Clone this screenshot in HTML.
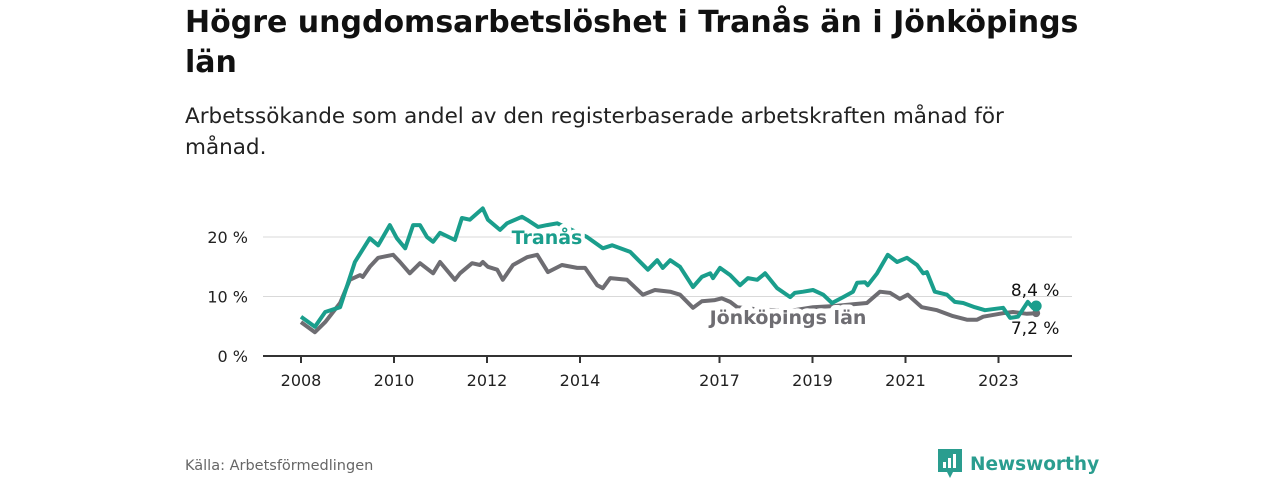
<!DOCTYPE html>
<html><head><meta charset="utf-8">
<style>
body{margin:0;background:#fff;width:1280px;height:480px;overflow:hidden;font-family:"Liberation Sans","DejaVu Sans",sans-serif;}
#wrap{position:relative;width:1280px;height:480px;}
h1{position:absolute;left:185px;top:3px;margin:0;white-space:nowrap;font-family:"DejaVu Sans",sans-serif;font-size:30px;line-height:40px;font-weight:bold;color:#111;}
.sub{position:absolute;left:185px;top:101px;white-space:nowrap;font-family:"DejaVu Sans",sans-serif;font-size:21.5px;line-height:31px;color:#222;}
.src{position:absolute;left:185px;top:458px;font-family:"DejaVu Sans",sans-serif;font-size:14.5px;color:#666;}
.logo{position:absolute;left:938px;top:449px;display:flex;align-items:center;}
.logo span{font-family:"DejaVu Sans",sans-serif;font-size:18.5px;font-weight:bold;color:#2a9d8f;margin-left:8px;}
svg text{font-family:"DejaVu Sans",sans-serif;}
</style></head><body>
<div id="wrap">
<h1>Högre ungdomsarbetslöshet i Tranås än i Jönköpings<br>län</h1>
<div class="sub">Arbetssökande som andel av den registerbaserade arbetskraften månad för<br>månad.</div>
<svg id="chart" width="1280" height="480" style="position:absolute;left:0;top:0"></svg>
<div class="src">Källa: Arbetsförmedlingen</div>
<div class="logo">
<svg width="24" height="30" viewBox="0 0 24 30"><path d="M0 0H24V23H15L12 29L9 23H0Z" fill="#2a9d8f"/><rect x="5" y="13" width="3" height="6" fill="#fff"/><rect x="10" y="9" width="3" height="10" fill="#fff"/><rect x="15" y="5" width="3" height="14" fill="#fff"/></svg>
<span>Newsworthy</span></div>
</div>
<script>
const tranasYears=[2008.0,2008.30,2008.52,2008.84,2009.16,2009.48,2009.66,2009.91,2010.06,2010.24,2010.41,2010.56,2010.71,2010.84,2010.99,2011.31,2011.46,2011.63,2011.91,2012.02,2012.28,2012.43,2012.75,2012.86,2013.10,2013.29,2013.51,2014.15,2014.49,2014.69,2015.08,2015.46,2015.66,2015.78,2015.94,2016.15,2016.43,2016.62,2016.80,2016.86,2017.01,2017.23,2017.44,2017.61,2017.81,2017.98,2018.24,2018.52,2018.62,2018.80,2019.01,2019.23,2019.42,2019.66,2019.87,2019.96,2020.13,2020.19,2020.39,2020.62,2020.82,2021.03,2021.25,2021.38,2021.46,2021.63,2021.89,2022.06,2022.24,2022.49,2022.71,2023.10,2023.25,2023.42,2023.63,2023.74,2023.81];
const tranasValues=[6.6,4.9,7.4,8.2,15.8,19.8,18.6,22,19.8,18.1,22,22,20,19.2,20.7,19.5,23.2,22.9,24.8,22.9,21.2,22.3,23.4,22.9,21.7,22.0,22.3,20,18.1,18.6,17.5,14.5,16.1,14.8,16.1,15,11.6,13.3,13.9,13.1,14.8,13.6,11.9,13.1,12.8,13.9,11.4,9.9,10.6,10.8,11.1,10.3,8.9,9.9,10.8,12.3,12.4,11.9,13.9,17,15.8,16.5,15.3,13.9,14.1,10.8,10.3,9.1,8.9,8.2,7.7,8.1,6.4,6.6,9.1,8.1,8.4];
const lanYears=[2008.0,2008.30,2008.52,2008.84,2009.05,2009.27,2009.33,2009.48,2009.66,2009.98,2010.13,2010.34,2010.56,2010.84,2010.99,2011.31,2011.42,2011.68,2011.85,2011.91,2012.02,2012.22,2012.34,2012.56,2012.86,2013.08,2013.31,2013.61,2013.94,2014.11,2014.37,2014.49,2014.65,2015.01,2015.35,2015.61,2015.94,2016.15,2016.43,2016.62,2016.90,2017.05,2017.23,2017.38,2017.87,2018.52,2019.01,2019.48,2019.87,2020.17,2020.45,2020.67,2020.88,2021.05,2021.35,2021.68,2022.02,2022.32,2022.54,2022.67,2023.10,2023.31,2023.61,2023.81];
const lanValues=[5.7,4.0,5.7,8.9,12.8,13.6,13.3,15,16.5,17,15.8,13.9,15.6,13.9,15.8,12.8,13.9,15.6,15.3,15.8,15,14.5,12.8,15.3,16.6,17,14.1,15.3,14.8,14.8,11.9,11.4,13.1,12.8,10.3,11.1,10.8,10.3,8.1,9.2,9.4,9.7,9.1,8.2,7.8,7.6,8.2,8.4,8.7,8.9,10.8,10.6,9.6,10.3,8.2,7.7,6.7,6.1,6.1,6.6,7.2,7.4,7.1,7.2];
const yTicks=[0,10,20];
const xTickYears=[2008,2010,2012,2014,2017,2019,2021,2023];
const NS='http://www.w3.org/2000/svg';
const svg=document.getElementById('chart');
const X=y=>301+(y-2008)*46.5;
const Y=v=>356-v*5.95;
function mk(t,a,p){const e=document.createElementNS(NS,t);for(const k in a)e.setAttribute(k,a[k]);(p||svg).appendChild(e);return e;}
yTicks.forEach(v=>{
 if(v>0){const g=mk('line',{x1:263,x2:1072,y1:Y(v),y2:Y(v),stroke:'#d9d9d9','stroke-width':1});
 
 }
 const t=mk('text',{x:248,y:Y(v)+6,'text-anchor':'end','font-size':16,fill:'#222'});t.textContent=v+' %';
 
 
});
const ax=mk('line',{x1:263,x2:1072,y1:356,y2:356,stroke:'#333','stroke-width':2});


xTickYears.forEach(y=>{
 const tk=mk('line',{x1:X(y),x2:X(y),y1:356,y2:363,stroke:'#333','stroke-width':2});
 
 
 const t=mk('text',{x:X(y),y:386,'text-anchor':'middle','font-size':16,fill:'#222'});t.textContent=y;
 
 
});
function path(xs,vs){return xs.map((x,i)=>(i?'L':'M')+X(x).toFixed(1)+' '+Y(vs[i]).toFixed(1)).join(' ');}
const lg=mk('path',{d:path(lanYears,lanValues),fill:'none',stroke:'#6e6d72','stroke-width':4,'stroke-linejoin':'round'});


const lt=mk('path',{d:path(tranasYears,tranasValues),fill:'none',stroke:'#1a9e8c','stroke-width':4,'stroke-linejoin':'round'});


const lx=lanYears[lanYears.length-1],lv=lanValues[lanValues.length-1];
const tx=tranasYears[tranasYears.length-1],tv=tranasValues[tranasValues.length-1];
const d1=mk('circle',{cx:X(lx),cy:Y(lv),r:4,fill:'#6e6d72'});


const d2=mk('circle',{cx:X(tx),cy:Y(tv),r:5.5,fill:'#1a9e8c'});


const l1=mk('text',{x:X(tx)-1,y:Y(tv)-10,'text-anchor':'middle','font-size':17,fill:'#111'});l1.textContent=String(tv).replace('.',',')+' %';


const l2=mk('text',{x:X(lx)-1,y:Y(lv)+21,'text-anchor':'middle','font-size':17,fill:'#111'});l2.textContent=String(lv).replace('.',',')+' %';


const n1=mk('text',{x:547,y:244,'text-anchor':'middle','font-size':19,'font-weight':'bold',fill:'#1a9e8c',stroke:'#fff','stroke-width':8,'paint-order':'stroke','stroke-linejoin':'round'});n1.textContent='Tranås';


const n2=mk('text',{x:788,y:324,'text-anchor':'middle','font-size':19,'font-weight':'bold',fill:'#6e6d72',stroke:'#fff','stroke-width':10,'paint-order':'stroke','stroke-linejoin':'round'});n2.textContent='Jönköpings län';


</script>
</body></html>
